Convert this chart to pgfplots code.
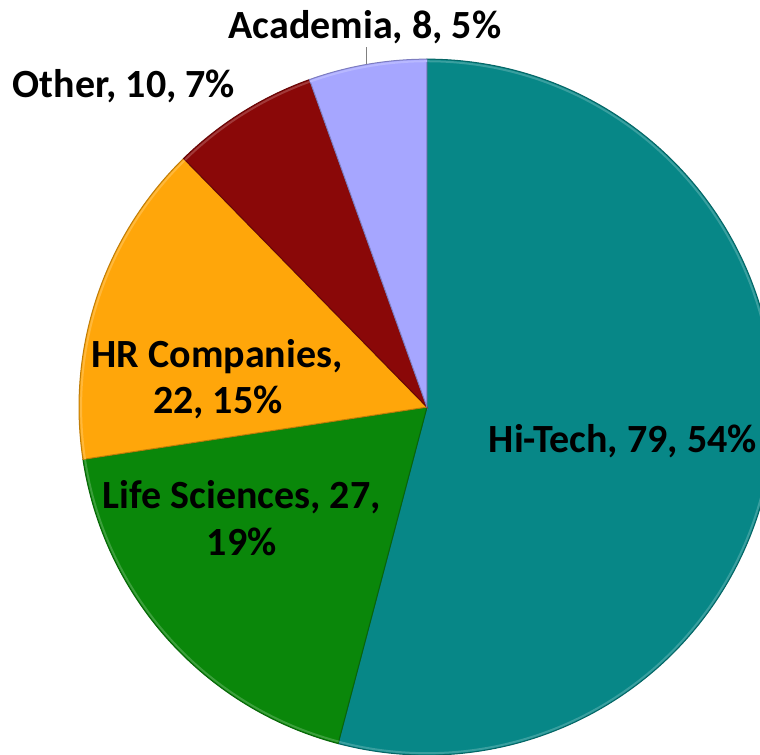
\documentclass[border=0pt]{standalone}
\usepackage{pgfplots}
\pgfplotsset{compat=1.18}
\usepackage{fontspec}
\setmainfont{Carlito}
\definecolor{cTech}{HTML}{078787}
\definecolor{cLife}{HTML}{0A870A}
\definecolor{cHR}{HTML}{FFA60A}
\definecolor{cOther}{HTML}{8A0808}
\definecolor{cAcad}{HTML}{A6A6FF}
\tikzset{lbl/.style={font=\fontsize{20}{24}\selectfont\bfseries, anchor=base, inner sep=0pt}}

% counts per sector, clockwise from the top
\def\vTech{79}
\def\vLife{27}
\def\vHR{22}
\def\vOther{10}
\def\vAcad{8}
\pgfmathsetmacro\tot{\vTech+\vLife+\vHR+\vOther+\vAcad}
\pgfmathsetmacro\aA{90}
\pgfmathsetmacro\aB{\aA-360*(\vTech/\tot)}
\pgfmathsetmacro\aC{\aB-360*(\vLife/\tot)}
\pgfmathsetmacro\aD{\aC-360*(\vHR/\tot)}
\pgfmathsetmacro\aE{\aD-360*(\vOther/\tot)}
\pgfmathsetmacro\aF{\aE-360*(\vAcad/\tot)}

% one wedge of radius 1 (= 174pt) between two angles
\newcommand\pieslice[3]{%
  \fill[#3, draw=#3!75!black, line width=0.5pt] (axis cs:0,0) -- (axis cs:{cos(#1)},{sin(#1)})
    arc[start angle=#1, end angle=#2, radius=174pt] -- cycle;
  \draw[#3!80!white, line width=1pt] (axis cs:{0.994*cos(#1)},{0.994*sin(#1)})
    arc[start angle=#1, end angle=#2, radius=173pt];}

\begin{document}
\begin{tikzpicture}
\begin{axis}[name=a, hide axis, x=174pt, y=174pt,
  xmin=-1.227, xmax=0.957, ymin=-0.997, ymax=1.170]
\addplot[draw=none] coordinates {(0,0)};
\pieslice{\aA}{\aB}{cTech}
\pieslice{\aB}{\aC}{cLife}
\pieslice{\aC}{\aD}{cHR}
\pieslice{\aD}{\aE}{cOther}
\pieslice{\aE}{\aF}{cAcad}
\draw[gray, line width=0.5pt] (axis cs:-0.175,1.034) -- (axis cs:-0.175,0.985);
\node[lbl] at (axis cs:-0.178,1.060) {Academia, 8, 5\%};
\node[lbl] at (axis cs:-0.871,0.891) {Other, 10, 7\%};
\node[lbl] at (axis cs:-0.603,0.115) {HR Companies,};
\node[lbl] at (axis cs:-0.601,-0.017) {22, 15\%};
\node[lbl] at (axis cs:-0.532,-0.290) {Life Sciences, 27,};
\node[lbl] at (axis cs:-0.532,-0.425) {19\%};
\node[lbl] at (axis cs:0.563,-0.129) {Hi-Tech, 79, 54\%};
\end{axis}
\pgfresetboundingbox
\path[use as bounding box] (a.south west) rectangle (a.north east);
\end{tikzpicture}
\end{document}
